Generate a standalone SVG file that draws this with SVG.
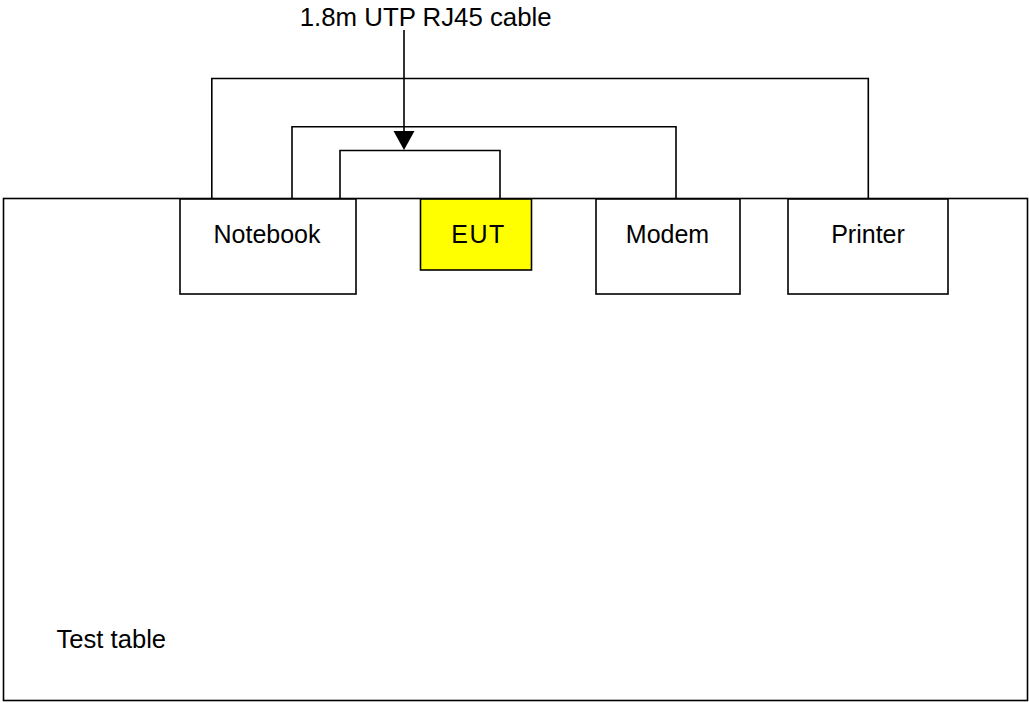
<svg xmlns="http://www.w3.org/2000/svg" width="1029" height="703" viewBox="0 0 1029 703">
<style>
.box{fill:#ffffff;stroke:#000000;stroke-width:1.6}
.eut{fill:#ffff00;stroke:#000000;stroke-width:1.6}
.wire{fill:none;stroke:#000000;stroke-width:1.6}
.lbl{font-family:"Liberation Sans",Arial,sans-serif;font-size:25px;fill:#000000}
</style>
<rect width="1029" height="703" fill="#ffffff"/>
<g id="test-table">
<rect class="box" x="3.5" y="198.5" width="1024" height="502"/>
<text class="lbl" x="56.5" y="647.5" style="font-size:25.6px">Test table</text>
</g>
<g id="connectors">
<polyline class="wire" points="211.8,198.5 211.8,78.5 868.3,78.5 868.3,198.5"/>
<polyline class="wire" points="292,198.5 292,126.8 676,126.8 676,198.5"/>
<polyline class="wire" points="340,198.5 340,150.5 500,150.5 500,198.5"/>
<line class="wire" x1="404" y1="30" x2="404" y2="132"/>
<polygon points="393.5,131 414.5,131 404,150" fill="#000000"/>
</g>
<g id="notebook">
<rect class="box" x="180" y="199" width="176" height="95"/>
<text class="lbl" x="267" y="243" text-anchor="middle">Notebook</text>
</g>
<g id="eut">
<rect class="eut" x="420.5" y="199" width="111" height="71"/>
<text class="lbl" x="478.5" y="243" text-anchor="middle" letter-spacing="1.5">EUT</text>
</g>
<g id="modem">
<rect class="box" x="596" y="199" width="144" height="95"/>
<text class="lbl" x="667.5" y="243" text-anchor="middle">Modem</text>
</g>
<g id="printer">
<rect class="box" x="788" y="199" width="160" height="95"/>
<text class="lbl" x="868" y="243" text-anchor="middle">Printer</text>
</g>
<g id="cable-label">
<text class="lbl" x="425.7" y="26" text-anchor="middle" style="font-size:25.8px">1.8m UTP RJ45 cable</text>
</g>
</svg>
